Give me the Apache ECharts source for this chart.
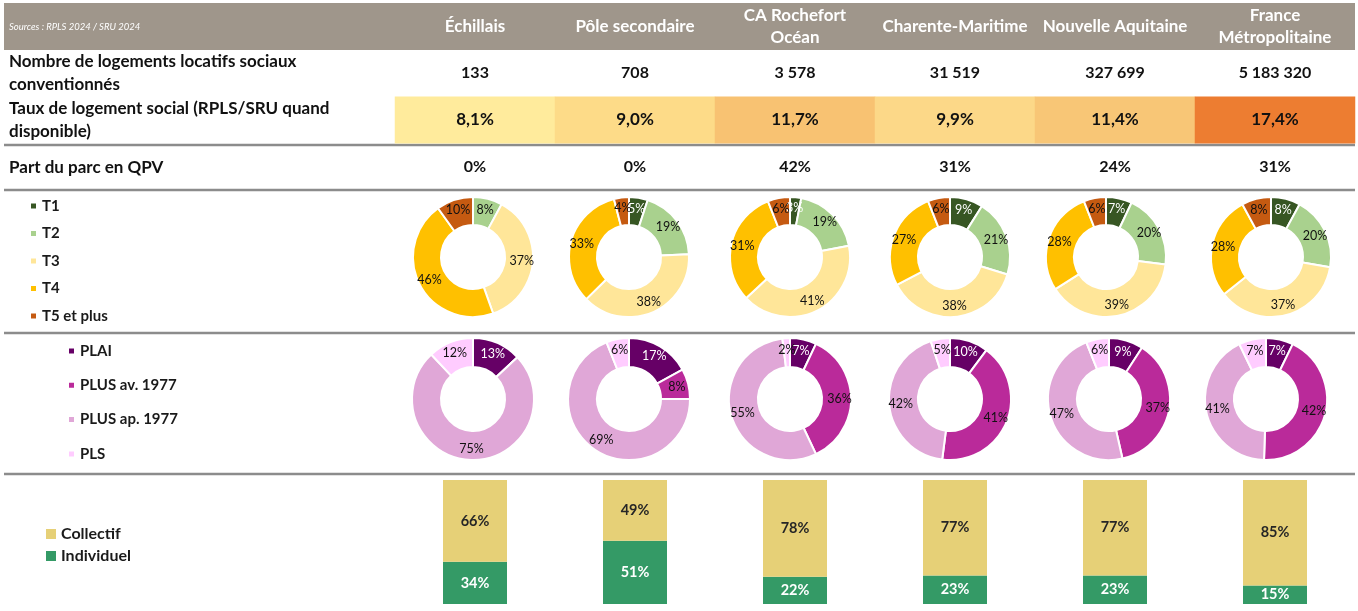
<!DOCTYPE html>
<html><head><meta charset="utf-8">
<script src="https://cdn.jsdelivr.net/npm/echarts@6/dist/echarts.min.js"></script>
<style>html,body{margin:0;padding:0;background:#fff}#c{width:1358px;height:611px}</style>
</head><body><div id="c"></div>
<script>
// ---------- DATA ----------
const sourceNote = 'Sources : RPLS 2024 / SRU 2024';
const columns = ['Échillais', 'Pôle secondaire', 'CA Rochefort\nOcéan', 'Charente-Maritime', 'Nouvelle Aquitaine', 'France\nMétropolitaine'];
const rowLabels = ['Nombre de logements locatifs sociaux\nconventionnés', 'Taux de logement social (RPLS/SRU quand\ndisponible)', 'Part du parc en QPV'];
const logements = [133, 708, 3578, 31519, 327699, 5183320];
const tauxSocial = [8.1, 9.0, 11.7, 9.9, 11.4, 17.4];
const partQPV = [0, 0, 42, 31, 24, 31];

const typeNames = ['T1', 'T2', 'T3', 'T4', 'T5 et plus'];
const typeT1 = [0, 5, 3, 9, 7, 8];
const typeT2 = [8, 19, 19, 21, 20, 20];
const typeT3 = [37, 38, 41, 38, 39, 37];
const typeT4 = [46, 33, 31, 27, 28, 28];
const typeT5 = [10, 4, 6, 6, 6, 8];

const finNames = ['PLAI', 'PLUS av. 1977', 'PLUS ap. 1977', 'PLS'];
const finPLAI = [13, 17, 7, 10, 9, 7];
const finPLUSav = [0, 8, 36, 41, 37, 42];
const finPLUSap = [75, 69, 55, 42, 47, 41];
const finPLS = [12, 6, 2, 5, 6, 7];

const formeNames = ['Collectif', 'Individuel'];
const collectif = [66, 49, 78, 77, 77, 85];
const individuel = [34, 51, 22, 23, 23, 15];

// ---------- STYLES / LAYOUT ----------
const FONT = 'Lato, "Open Sans", sans-serif';
const tauxColors = ['#FFEB9C', '#FDDB88', '#F8C272', '#FCD888', '#F8C676', '#ED7D31'];
const typeColors = ['#375623', '#A9D18E', '#FFE699', '#FFC000', '#C55A11'];
const finColors = ['#660066', '#BA2A9A', '#E0A7D7', '#FFCCFF'];
const colX0 = 395, colW = 160;
const pie1X = [473, 629, 790, 950, 1106, 1271], pie1Y = 257;
const pie2X = [473, 629, 790, 950, 1109, 1266], pie2Y = 399;

const typeSeries = [typeT1, typeT2, typeT3, typeT4, typeT5];
const finSeries = [finPLAI, finPLUSav, finPLUSap, finPLS];

const fmtInt = v => String(v).replace(/\B(?=(\d{3})+(?!\d))/g, ' ');
const fmtDec = v => v.toFixed(1).replace('.', ',') + '%';

const heatData = [];
columns.forEach((c, i) => {
  heatData.push({ value: [i, 0, logements[i]], itemStyle: { color: 'rgba(0,0,0,0)' } });
  heatData.push({ value: [i, 1, tauxSocial[i]], itemStyle: { color: tauxColors[i] }, label: { fontSize: 17 } });
  heatData.push({ value: [i, 2, partQPV[i]], itemStyle: { color: 'rgba(0,0,0,0)' } });
});

const series = [{
  type: 'heatmap', xAxisIndex: 0, yAxisIndex: 0, data: heatData, silent: true,
  label: {
    show: true, fontFamily: FONT, fontSize: 16, fontWeight: 'bold', color: '#111',
    formatter: p => p.value[1] === 0 ? fmtInt(p.value[2]) : p.value[1] === 1 ? fmtDec(p.value[2]) : p.value[2] + '%'
  }
}];

function pieLabel(p) { return p.value ? p.value + '%' : ''; }
const pieCommon = {
  type: 'pie', startAngle: 90, silent: true, avoidLabelOverlap: false,
  labelLayout: { hideOverlap: false },
  itemStyle: { borderColor: '#fff', borderWidth: 2 },
  label: { show: true, position: 'inside', formatter: pieLabel, fontFamily: FONT, fontSize: 12.5 },
  labelLine: { show: false }
};

columns.forEach((c, i) => {
  series.push(Object.assign({}, pieCommon, {
    center: [pie1X[i], pie1Y], radius: [32, 60],
    data: typeNames.map((n, k) => ({ name: n, value: typeSeries[k][i], itemStyle: { color: typeColors[k] }, label: { color: k === 0 ? '#fff' : '#111' } }))
  }));
  series.push(Object.assign({}, pieCommon, {
    center: [pie2X[i], pie2Y], radius: [32, 61],
    data: finNames.map((n, k) => ({ name: n, value: finSeries[k][i], itemStyle: { color: finColors[k] }, label: { color: k === 0 ? '#fff' : '#111' } }))
  }));
});

series.push({
  name: 'Individuel', type: 'bar', stack: 'forme', xAxisIndex: 1, yAxisIndex: 1, barWidth: 64, data: individuel,
  itemStyle: { color: '#349A66' }, silent: true,
  label: { show: true, position: 'inside', formatter: '{c}%', color: '#fff', fontFamily: FONT, fontSize: 14.5, fontWeight: 'bold' }
});
series.push({
  name: 'Collectif', type: 'bar', stack: 'forme', xAxisIndex: 1, yAxisIndex: 1, barWidth: 64, data: collectif,
  itemStyle: { color: '#E6D077' }, silent: true,
  label: { show: true, position: 'inside', formatter: '{c}%', color: '#262626', fontFamily: FONT, fontSize: 14.5, fontWeight: 'bold' }
});

const graphics = [
  { type: 'rect', shape: { x: 4, y: 3, width: 1351, height: 47 }, style: { fill: '#9F968B' }, z: 0 },
  { type: 'text', x: 9, y: 27, style: { text: sourceNote, fill: '#fff', font: 'italic 9.5px ' + FONT, align: 'left', verticalAlign: 'middle' } }
];
columns.forEach((c, i) => {
  graphics.push({ type: 'text', x: colX0 + colW * i + colW / 2, y: 27,
    style: { text: c, fill: '#fff', font: 'bold 17px ' + FONT, align: 'center', verticalAlign: 'middle', lineHeight: 22 } });
});
const rowY = [73.5, 120.5, 168];
rowLabels.forEach((t, i) => {
  graphics.push({ type: 'text', x: 9, y: rowY[i],
    style: { text: t, fill: '#111', font: 'bold 17px ' + FONT, align: 'left', verticalAlign: 'middle', lineHeight: 23 } });
});
[145, 190, 333, 474].forEach(y => {
  graphics.push({ type: 'line', shape: { x1: 4, y1: y, x2: 1355, y2: y }, style: { stroke: '#8C8C8C', lineWidth: 2.5 } });
});

const legendText = { fontFamily: FONT, fontSize: 15, fontWeight: 'bold', color: '#1a1a1a' };

const option = {
  animation: false,
  grid: [
    { left: colX0, right: 1358 - (colX0 + colW * 6), top: 50, height: 140 },
    { left: colX0, right: 1358 - (colX0 + colW * 6), top: 480, height: 124 }
  ],
  xAxis: [
    { type: 'category', data: columns, gridIndex: 0, show: false },
    { type: 'category', data: columns, gridIndex: 1, show: false }
  ],
  yAxis: [
    { type: 'category', data: rowLabels, gridIndex: 0, inverse: true, show: false },
    { type: 'value', gridIndex: 1, min: 0, max: 100, show: false }
  ],
  legend: [
    { data: typeNames, orient: 'vertical', left: 24, top: 193.5, itemWidth: 7, itemHeight: 7, itemGap: 12.5, icon: 'rect', selectedMode: false, textStyle: legendText },
    { data: finNames, orient: 'vertical', left: 62, top: 338.5, itemWidth: 7, itemHeight: 7, itemGap: 19.3, icon: 'rect', selectedMode: false, textStyle: legendText },
    { data: formeNames, orient: 'vertical', left: 41, top: 521, itemWidth: 10, itemHeight: 10, itemGap: 6, icon: 'rect', selectedMode: false, textStyle: Object.assign({}, legendText, { fontSize: 16 }) }
  ],
  graphic: graphics,
  series: series
};
const chart = echarts.init(document.getElementById('c'), null, { renderer: 'canvas' });
chart.setOption(option);
</script>
</body></html>
